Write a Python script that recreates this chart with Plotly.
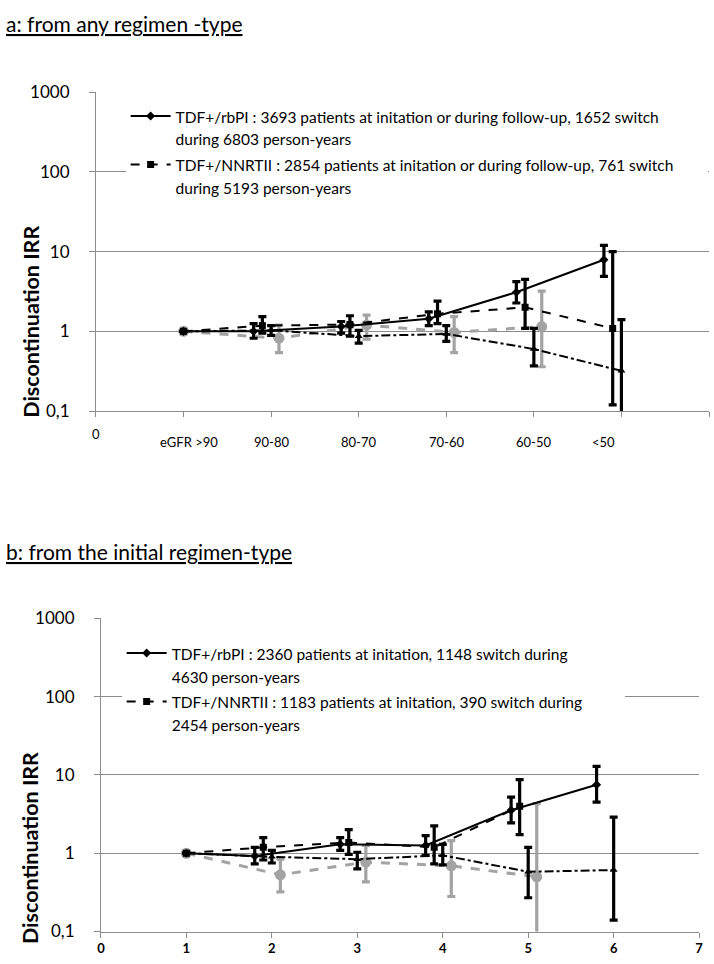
import plotly.graph_objects as go

# ---------------- data ----------------
cats_a = ["eGFR >90", "90-80", "80-70", "70-60", "60-50", "<50"]
cat_pos_a = [1.06, 2, 3, 4, 5, 5.79]
xcat = [1, 2, 3, 4, 5, 6]

# panel a
a_rbpi = [1, 1.0, 1.15, 1.44, 3.1, 7.9]
a_rbpi_lo = [1, 0.82, 0.95, 1.18, 2.27, 4.9]
a_rbpi_hi = [1, 1.25, 1.33, 1.76, 4.2, 12.0]
a_nnrti = [1, 1.18, 1.22, 1.66, 2.0, 1.09]
a_nnrti_lo = [1, 0.95, 0.87, 1.25, 1.09, 0.12]
a_nnrti_hi = [1, 1.53, 1.57, 2.4, 4.5, 10.0]
a_other = [1, 1.03, 0.87, 0.93, 0.6, 0.32]
a_other_lo = [1, 0.89, 0.71, 0.75, 0.37, 0.05]
a_other_hi = [1, 1.18, 1.03, 1.18, 1.09, 1.4]
a_gray = [1, 0.82, 1.2, 0.97, 1.15]
a_gray_lo = [1, 0.54, 0.8, 0.54, 0.36]
a_gray_hi = [1, 1.2, 1.6, 1.53, 3.2]

# panel b
b_rbpi = [1, 0.92, 1.3, 1.26, 3.55, 7.5]
b_rbpi_lo = [1, 0.73, 1.09, 0.94, 2.44, 4.5]
b_rbpi_hi = [1, 1.19, 1.58, 1.68, 5.2, 12.9]
b_nnrti = [1, 1.19, 1.37, 1.19, 3.98]
b_nnrti_lo = [1, 0.82, 0.97, 0.73, 1.73]
b_nnrti_hi = [1, 1.58, 2.0, 2.24, 8.7]
b_other = [1, 0.9, 0.84, 0.94, 0.58, 0.61]
b_other_lo = [1, 0.75, 0.63, 0.71, 0.27, 0.14]
b_other_hi = [1, 1.09, 1.03, 1.3, 1.19, 2.9]
b_gray = [1, 0.53, 0.77, 0.69, 0.5]
b_gray_lo = [1, 0.32, 0.43, 0.28, 0.05]
b_gray_hi = [1, 0.84, 1.26, 1.45, 4.3]

leg_a = ["TDF+/rbPI : 3693 patients at initation or during follow-up, 1652 switch<br>during 6803 person-years",
         "TDF+/NNRTII : 2854 patients at initation or during follow-up, 761 switch<br>during 5193 person-years"]
leg_b = ["TDF+/rbPI : 2360 patients at initation, 1148 switch during<br>4630 person-years",
         "TDF+/NNRTII : 1183 patients at initation, 390 switch during<br>2454 person-years"]

y_ticks = [0.1, 1, 10, 100, 1000]
y_ticktext = ["0,1", "1", "10", "100", "1000"]

FONT = "Lato"
GRAY = "#a3a3a3"
AX = "#8c8c8c"
LEG_TXT = 15.5

fig = go.Figure()


def add_series(vals, lo, hi, offset, xa, ya, color, dash, symbol, msize, lw, name, legend, showleg, pad=0):
    n = len(vals)
    xs = [xcat[i] + (offset if i > 0 else 0) for i in range(n)]
    plus = [h - v for v, h in zip(vals, hi)]
    minus = [v - l for v, l in zip(vals, lo)]
    label = ""
    if name:
        parts = name.split("<br>")
        parts[0] = parts[0] + "&nbsp;" * pad
        label = "<br>".join(f'<span style="font-size:{LEG_TXT}px">{p}</span>' for p in parts)
    fig.add_trace(go.Scatter(
        x=xs, y=vals, mode="lines+markers", name=label,
        xaxis=xa, yaxis=ya, legend=legend, showlegend=showleg,
        line=dict(color=color, width=lw, dash=dash),
        marker=dict(symbol=symbol, size=msize, color=color),
        error_y=dict(type="data", symmetric=False, array=plus, arrayminus=minus,
                     color=color, thickness=3.2, width=4),
    ))


# panel a
add_series(a_gray, a_gray_lo, a_gray_hi, 0.09, "x", "y", GRAY, "dash", "circle", 11, 3, "", "legend", False)
add_series(a_other, a_other_lo, a_other_hi, 0.0, "x", "y", "black", "dashdot", "triangle-up", 7, 2, "", "legend", False)
add_series(a_rbpi, a_rbpi_lo, a_rbpi_hi, -0.2, "x", "y", "black", "solid", "diamond", 7, 2, leg_a[0], "legend", True, 11)
add_series(a_nnrti, a_nnrti_lo, a_nnrti_hi, -0.1, "x", "y", "black", "dash", "square", 7, 2, leg_a[1], "legend", True)

# panel b
add_series(b_gray, b_gray_lo, b_gray_hi, 0.1, "x2", "y2", GRAY, "dash", "circle", 11, 3, "", "legend2", False)
add_series(b_other, b_other_lo, b_other_hi, 0.0, "x2", "y2", "black", "dashdot", "triangle-up", 7, 2, "", "legend2", False)
add_series(b_rbpi, b_rbpi_lo, b_rbpi_hi, -0.2, "x2", "y2", "black", "solid", "diamond", 7, 2, leg_b[0], "legend2", True, 13)
add_series(b_nnrti, b_nnrti_lo, b_nnrti_hi, -0.1, "x2", "y2", "black", "dash", "square", 7, 2, leg_b[1], "legend2", True)

W, H = 714, 964


def px_x(p):
    return p / W


def px_y(p):
    return 1 - p / H


xcommon = dict(range=[0, 7], showline=True, linecolor=AX, linewidth=1, ticks="outside",
               ticklen=5, tickcolor=AX, tickvals=list(range(8)), showgrid=False, zeroline=False)
ycommon = dict(type="log", range=[-1, 3], showline=True, linecolor=AX, linewidth=1,
               ticks="outside", ticklen=6, tickcolor=AX, tickvals=y_ticks, ticktext=y_ticktext,
               showgrid=True, gridcolor=AX, gridwidth=1, zeroline=False,
               tickfont=dict(family=FONT, size=17, color="black"), ticklabelstandoff=16)

legcommon = dict(xanchor="left", yanchor="top", bgcolor="white",
                 font=dict(family=FONT, size=17.5, color="black"), valign="top",
                 tracegroupgap=0, itemwidth=40)

fig.update_layout(
    width=W, height=H, margin=dict(l=0, r=0, t=0, b=0),
    paper_bgcolor="white", plot_bgcolor="white",
    font=dict(family=FONT, color="black"),
    xaxis=dict(domain=[px_x(93), px_x(713)], anchor="y", showticklabels=False, **xcommon),
    yaxis=dict(domain=[px_y(409), px_y(83)], anchor="x", **ycommon),
    xaxis2=dict(domain=[px_x(98), px_x(703)], anchor="y2", showticklabels=True,
                tickfont=dict(family=FONT, size=13, color="black", weight="bold"), **xcommon),
    yaxis2=dict(domain=[px_y(941), px_y(621)], anchor="x2", **ycommon),
    legend=dict(x=px_x(123), y=px_y(89), **legcommon),
    legend2=dict(x=px_x(119), y=px_y(638), **legcommon),
)

ann = []
ann.append(dict(text="<u>a: from any regimen -type</u>", x=0, y=px_y(13), xref="paper", yref="paper",
                xanchor="left", yanchor="middle", showarrow=False, font=dict(family=FONT, size=21, color="black")))
ann.append(dict(text="<u>b: from the initial regimen-type</u>", x=0, y=px_y(553), xref="paper", yref="paper",
                xanchor="left", yanchor="middle", showarrow=False, font=dict(family=FONT, size=21, color="black")))
ann.append(dict(text="<b>Discontinuation IRR</b>", x=px_x(27), y=px_y(318), xref="paper", yref="paper",
                xanchor="center", yanchor="middle",
                textangle=-90, showarrow=False, font=dict(family=FONT, size=21.5, color="black")))
ann.append(dict(text="<b>Discontinuation IRR</b>", x=px_x(27), y=px_y(856), xref="paper", yref="paper",
                xanchor="center", yanchor="middle",
                textangle=-90, showarrow=False, font=dict(family=FONT, size=21.5, color="black")))
ann.append(dict(text="0", x=0, y=px_y(432), xref="x", yref="paper", showarrow=False,
                font=dict(family=FONT, size=13, color="black")))
for lab, pos in zip(cats_a, cat_pos_a):
    ann.append(dict(text=lab, x=pos, y=px_y(441), xref="x", yref="paper", showarrow=False,
                    font=dict(family=FONT, size=13, color="black")))
fig.update_layout(annotations=ann)

fig.write_html("out.html", config={"displayModeBar": False},
               post_script="document.body.style.margin='0px';")
